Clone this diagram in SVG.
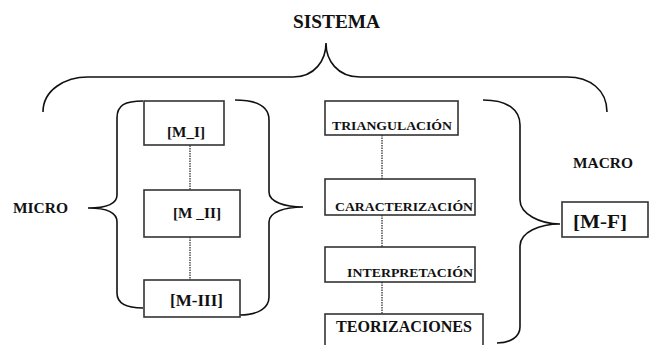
<svg xmlns="http://www.w3.org/2000/svg" width="649" height="345" viewBox="0 0 649 345">
<style>
text{font-family:"Liberation Serif","DejaVu Serif","Times New Roman",serif;font-weight:bold;fill:#111}
.box{fill:#fff;stroke:#333;stroke-width:1.6}
.brace{fill:none;stroke:#111;stroke-width:1.6}
.dot{fill:none;stroke:#333;stroke-width:1.3;stroke-dasharray:1.5 1}
</style>
<rect width="649" height="345" fill="#fff"/>
<g id="braces">
<path class="brace" d="M43,112 C43,90 65,77 88,77 L293,77 C315,77 326,60 326,43 C326,60 337,77 360,77 L567,77 C590,77 607,90 607,112"/>
<path class="brace" d="M143,101 C125,101 117,105 117,118 L117,195 C117,204 105,208 88,208 C105,208 117,212 117,222 L117,293 C117,303 125,308 143,308"/>
<path class="brace" d="M235,100 C258,100 269,107 269,120 L269,192 C269,202 285,207 303,207 C285,207 269,212 269,222 L269,297 C269,308 258,315 240,315"/>
<path class="brace" d="M483,100 C508,100 520,110 520,125 L520,200 C520,214 540,224 560,224 C540,224 520,232 520,246 L520,327 C520,337 510,343 497,343"/>
</g>
<g id="connectors">
<line class="dot" x1="190" y1="133" x2="190" y2="190"/>
<line class="dot" x1="190" y1="237" x2="190" y2="280"/>
<line class="dot" x1="382" y1="135" x2="382" y2="179"/>
<line class="dot" x1="382" y1="215" x2="382" y2="247"/>
<line class="dot" x1="382" y1="282" x2="382" y2="314"/>
</g>
<g id="sistema"><text x="293" y="28" font-family="Liberation Serif, serif" font-size="19.5" textLength="87" lengthAdjust="spacingAndGlyphs">SISTEMA</text></g>
<g id="micro"><text x="13" y="213" font-family="Liberation Serif, serif" font-size="15.5" textLength="55" lengthAdjust="spacingAndGlyphs">MICRO</text></g>
<g id="macro"><text x="573" y="168" font-family="Liberation Serif, serif" font-size="15.5" textLength="60" lengthAdjust="spacingAndGlyphs">MACRO</text></g>
<g id="m1"><rect class="box" x="144" y="101" width="80" height="44"/><text x="167" y="137" font-family="Liberation Serif, serif" font-size="15" textLength="38" lengthAdjust="spacingAndGlyphs">[M_I]</text></g>
<g id="m2"><rect class="box" x="144" y="190" width="96" height="47"/><text x="173" y="218" font-family="Liberation Serif, serif" font-size="15" textLength="48" lengthAdjust="spacingAndGlyphs">[M _II]</text></g>
<g id="m3"><rect class="box" x="144" y="280" width="96" height="37"/><text x="170" y="306" font-family="Liberation Serif, serif" font-size="16.5" textLength="53" lengthAdjust="spacingAndGlyphs">[M-III]</text></g>
<g id="triangulacion"><rect class="box" x="325" y="101" width="133" height="34"/><text x="332" y="130" font-family="Liberation Serif, serif" font-size="13" textLength="120" lengthAdjust="spacingAndGlyphs">TRIANGULACIÓN</text></g>
<g id="caracterizacion"><rect class="box" x="325" y="179" width="150" height="36"/><text x="335" y="211" font-family="Liberation Serif, serif" font-size="13" textLength="138" lengthAdjust="spacingAndGlyphs">CARACTERIZACIÓN</text></g>
<g id="interpretacion"><rect class="box" x="325" y="247" width="150" height="35"/><text x="347" y="277" font-family="Liberation Serif, serif" font-size="13" textLength="126" lengthAdjust="spacingAndGlyphs">INTERPRETACIÓN</text></g>
<g id="teorizaciones"><rect class="box" x="325" y="314" width="158" height="40"/><text x="336" y="332" font-family="Liberation Serif, serif" font-size="16" textLength="136" lengthAdjust="spacingAndGlyphs">TEORIZACIONES</text></g>
<g id="mf"><rect class="box" x="562" y="202" width="86" height="35"/><text x="573" y="228" font-family="Liberation Serif, serif" font-size="18" textLength="54" lengthAdjust="spacingAndGlyphs">[M-F]</text></g>
</svg>
